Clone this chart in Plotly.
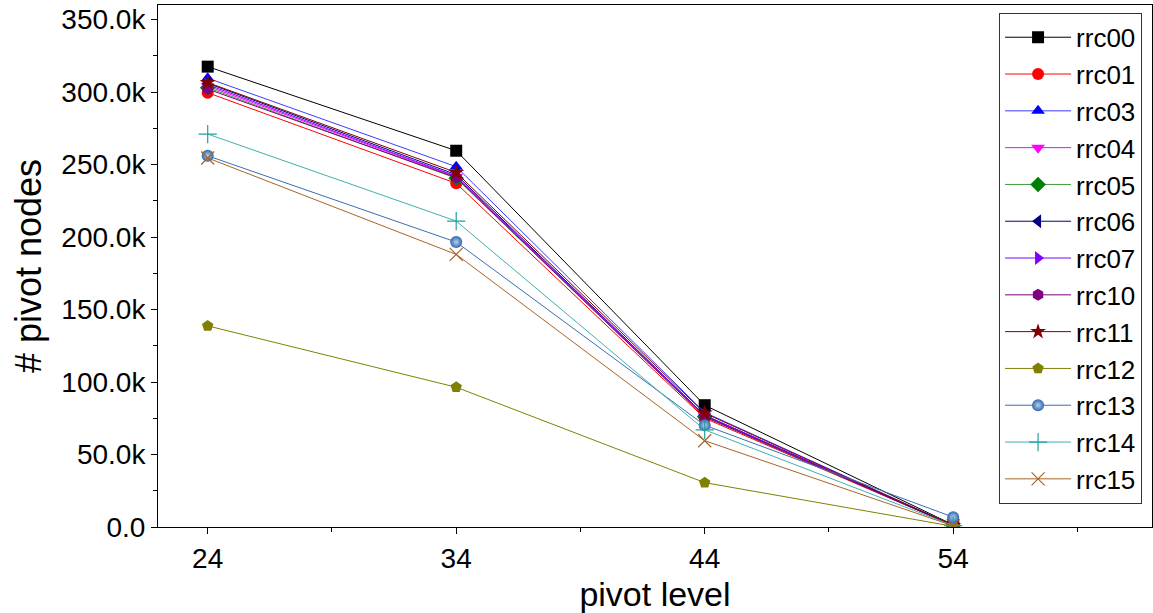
import plotly.graph_objects as go

levels = [24, 34, 44, 54]

series_names = ["rrc00", "rrc01", "rrc03", "rrc04", "rrc05", "rrc06", "rrc07",
                "rrc10", "rrc11", "rrc12", "rrc13", "rrc14", "rrc15"]

rrc00 = [317500, 259500, 84000, 1500]
rrc01 = [299500, 237000, 75000, 1000]
rrc03 = [309500, 248500, 79000, 1200]
rrc04 = [304000, 241500, 76500, 1000]
rrc05 = [303000, 240500, 76000, 1000]
rrc06 = [306000, 243000, 77000, 1000]
rrc07 = [305000, 242000, 77000, 1000]
rrc10 = [302000, 241000, 76000, 1000]
rrc11 = [306500, 244500, 78500, 1000]
rrc12 = [138700, 96400, 30600, 500]
rrc13 = [256000, 196500, 70200, 6800]
rrc14 = [271000, 211000, 67000, 1000]
rrc15 = [254500, 188000, 59500, 800]

values = [rrc00, rrc01, rrc03, rrc04, rrc05, rrc06, rrc07,
          rrc10, rrc11, rrc12, rrc13, rrc14, rrc15]

y_tick_vals = [0, 50000, 100000, 150000, 200000, 250000, 300000, 350000]
y_tick_text = ["0.0", "50.0k", "100.0k", "150.0k", "200.0k", "250.0k", "300.0k", "350.0k"]

colors = ["#000000", "#ff0000", "#0000ff", "#ff00ff", "#008000", "#000080", "#8000ff",
          "#800080", "#800000", "#808000", "#2f68a8", "#20a0a0", "#a86428"]
line_colors = ["#000000", "#ff0000", "#3c3cff", "#ff00ff", "#3c9a3c", "#000080", "#8000ff",
               "#800080", "#800000", "#808000", "#3a70b0", "#40b0b0", "#a86428"]
symbols = ["square", "circle", "triangle-up", "triangle-down", "diamond", "triangle-left",
           "triangle-right", "hexagon", "star", "pentagon", "circle", "cross-thin", "x-thin"]

fig = go.Figure()
for name, vals, c, lc, s in zip(series_names, values, colors, line_colors, symbols):
    marker = dict(symbol=s, color=c, size=12, line=dict(width=0, color=c))
    if s in ("cross-thin", "x-thin"):
        marker = dict(symbol=s, color=c, size=13, line=dict(width=1.2, color=c))
    if name == "rrc13":
        marker["gradient"] = dict(type="radial", color="#b8d0f0")
    fig.add_trace(go.Scatter(
        x=levels, y=vals, name=name, mode="lines+markers",
        line=dict(color=lc, width=1), marker=marker,
    ))

fig.update_layout(
    width=1153, height=613,
    margin=dict(l=158, r=1, t=5, b=86),
    paper_bgcolor="white", plot_bgcolor="white",
    font=dict(family="Liberation Sans, Arial, sans-serif", color="#000000"),
    showlegend=True,
    legend=dict(
        x=0.99, y=0.985, xanchor="right", yanchor="top",
        bgcolor="white", bordercolor="#333333", borderwidth=1,
        font=dict(size=26), tracegroupgap=0, itemwidth=66,
    ),
)
fig.update_xaxes(
    range=[22, 62], tickvals=levels, ticktext=[str(v) for v in levels],
    ticks="outside", ticklen=6, tickwidth=1, tickcolor="#000",
    minor=dict(tickvals=[29, 39, 49, 59], ticks="outside", ticklen=4, tickcolor="#000"),
    showline=True, linecolor="#000", linewidth=1, mirror=True,
    showgrid=False, zeroline=False,
    tickfont=dict(size=28),
    title=dict(text="pivot level", font=dict(size=34), standoff=10),
)
fig.update_yaxes(
    range=[0, 360000], tickvals=y_tick_vals, ticktext=y_tick_text,
    ticks="outside", ticklen=6, tickwidth=1, tickcolor="#000",
    minor=dict(dtick=25000, ticks="outside", ticklen=4, tickcolor="#000"),
    showline=True, linecolor="#000", linewidth=1, mirror=True,
    showgrid=False, zeroline=False,
    tickfont=dict(size=28),
    title=dict(text="# pivot nodes", font=dict(size=36), standoff=8),
)

fig.write_html("out.html")
